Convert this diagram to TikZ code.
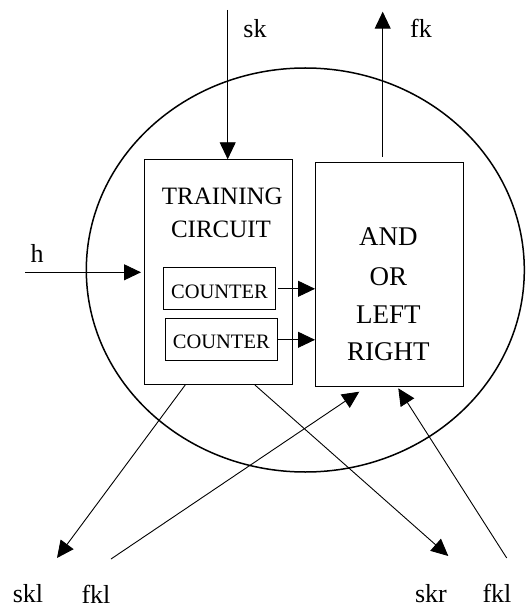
\documentclass[tikz,border=0pt]{standalone}
\usepackage{fontspec}
\setmainfont{Liberation Serif}
\usetikzlibrary{arrows.meta,calc,shapes.geometric}
\tikzset{
  blockbox/.style={draw, line width=1pt, inner sep=0pt, anchor=north west},
  lbl/.style={inner sep=0pt, anchor=base, font=\fontsize{26}{30}\selectfont},
  btxt/.style={inner sep=0pt, anchor=base},
  conn/.style={line width=0.9pt, -{Triangle[length=17pt,width=16pt]}},
}
\begin{document}
\begin{tikzpicture}[x=1pt,y=-1pt]
\useasboundingbox (0,0) rectangle (525,609);
% circle
\node[draw, ellipse, line width=1.5pt, minimum width=438pt, minimum height=404pt, inner sep=0pt] (circ) at (305.3,270) {};
% boxes
\node[blockbox, minimum width=148.3pt, minimum height=224.7pt] (tc) at (144,159.3) {};
\node[blockbox, minimum width=148.3pt, minimum height=224.3pt] (ab) at (315,161.7) {};
\node[blockbox, minimum width=112.3pt, minimum height=42pt] (c1) at (162.7,267.3) {};
\node[blockbox, minimum width=111.7pt, minimum height=42pt] (c2) at (165,318.3) {};
% texts in boxes
\node[btxt, font=\fontsize{25}{30}\selectfont] (t1) at (222.3,205) {TRAINING};
\node[btxt, font=\fontsize{25}{30}\selectfont] (t2) at (221,237.3) {CIRCUIT};
\node[btxt, font=\fontsize{20.5}{24}\selectfont] (ct1) at (219.5,298.3) {COUNTER};
\node[btxt, font=\fontsize{20.5}{24}\selectfont] (ct2) at (221.3,348.3) {COUNTER};
\node[btxt, font=\fontsize{27}{32}\selectfont] (a1) at (388.4,246) {AND};
\node[btxt, font=\fontsize{27}{32}\selectfont] (a2) at (388.4,285) {OR};
\node[btxt, font=\fontsize{27}{32}\selectfont] (a3) at (388.3,323) {LEFT};
\node[btxt, font=\fontsize{27}{32}\selectfont] (a4) at (388.3,360.5) {RIGHT};
% labels
\node[lbl] (sk) at (255,38) {sk};
\node[lbl] (fk) at (421,38) {fk};
\node[lbl] (h) at (37,262) {h};
\node[lbl] (skl) at (28,602) {skl};
\node[lbl] (fkl1) at (96,603) {fkl};
\node[lbl] (skr) at (431,602) {skr};
\node[lbl] (fkl2) at (497,602) {fkl};
% free ends
\coordinate (skin) at (227.7,10);
\coordinate (fkout) at (382.7,11.7);
\coordinate (hin) at (25,272.3);
\coordinate (sklend) at (57,558);
\coordinate (fklstart) at (111,559);
\coordinate (skrend) at (448.3,556);
\coordinate (fkrstart) at (506.7,558);
\coordinate (d2end) at (359.3,391.7);
\coordinate (d4end) at (398.3,388.3);
% connectors
\draw[conn] (skin) -- (skin |- tc.north);
\draw[conn, shorten <=4.7pt] (fkout |- ab.north) -- (fkout);
\draw[conn, shorten >=3pt] (hin) -- (hin -| tc.west);
\draw[conn, shorten <=1.5pt] (c1.east) -- (c1.east -| ab.west);
\draw[conn] (c2.east) -- (c2.east -| ab.west);
\draw[conn] ($(tc.south west)!0.276!(tc.south east)$) -- (sklend);
\draw[conn] (fklstart) -- (d2end);
\draw[conn] ($(tc.south west)!0.743!(tc.south east)$) -- (skrend);
\draw[conn] (fkrstart) -- (d4end);
\end{tikzpicture}
\end{document}
